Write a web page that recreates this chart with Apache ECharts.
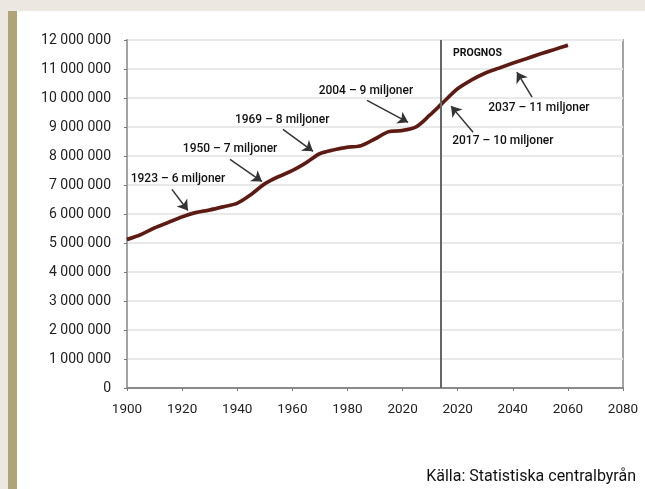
<!DOCTYPE html>
<html>
<head>
<meta charset="utf-8">
<script src="https://cdn.jsdelivr.net/npm/echarts@6/dist/echarts.min.js"></script>
<style>
  html, body { margin: 0; padding: 0; background: #ece7e0; width: 645px; height: 489px; overflow: hidden; }
  #bar { position: absolute; left: 8px; top: 11px; width: 9px; height: 478px; background: #b1a378; }
  #chart { position: absolute; left: 17px; top: 11px; width: 628px; height: 478px; background: #fff; }
</style>
</head>
<body>
<div id="bar"></div>
<div id="chart"></div>
<script>
// befolkning (miljoner) per år
const years = [1900, 1905, 1910, 1915, 1920, 1925, 1930, 1935, 1940, 1945, 1950, 1955, 1960, 1965, 1970, 1975, 1980, 1985, 1990, 1995, 2000, 2005, 2010, 2014,
  2020, 2025, 2030, 2035, 2040, 2045, 2050, 2055, 2060]
const population = [5.12, 5.29, 5.52, 5.71, 5.90, 6.05, 6.14, 6.25, 6.37, 6.67, 7.04, 7.29, 7.50, 7.77, 8.08, 8.21, 8.30, 8.36, 8.59, 8.84, 8.88, 9.01, 9.42, 9.78,
  10.32, 10.62, 10.86, 11.03, 11.20, 11.36, 11.52, 11.67, 11.82]

const xTickLabels = ['1900', '1920', '1940', '1960', '1980', '2020', '2020', '2040', '2060', '2080']
const prognosYear = 2014

// annoteringar: text, textposition [år, milj], pil från, pil till
const noteTexts = ['1923 – 6 miljoner', '1950 – 7 miljoner', '1969 – 8 miljoner', '2004 – 9 miljoner', '2017 – 10 miljoner', '2037 – 11 miljoner']
const notePos = [[1918.5, 7.19], [1937.4, 8.23], [1956.3, 9.23], [1986.7, 10.24], [2036.4, 8.51], [2049.5, 9.65]]
const arrowFrom = [[1916.3, 6.85], [1937.4, 7.88], [1956.6, 8.92], [1987.1, 9.92], [2025.6, 8.82], [2047.0, 10.03]]
const arrowTo = [[1922.1, 6.12], [1949.0, 7.12], [1967.5, 8.16], [2002.0, 9.16], [2017.6, 9.72], [2041.5, 10.89]]

const chart = echarts.init(document.getElementById('chart'))

const font = 'Roboto, "DejaVu Sans", sans-serif'

const option = {
  animation: false,
  textStyle: { fontFamily: font },
  title: {
    text: 'Källa: Statistiska centralbyrån',
    right: 9,
    top: 458,
    padding: 0,
    textStyle: { fontFamily: font, fontSize: 16, fontWeight: 'normal', color: '#111' }
  },
  grid: {
    left: 110,
    top: 29,
    right: 22,
    bottom: 101,
    show: true,
    borderColor: '#a3a3a3',
    borderWidth: 2
  },
  xAxis: {
    type: 'value',
    min: 1900,
    max: 2080,
    interval: 20,
    axisLine: { show: true, onZero: false, lineStyle: { color: '#8a8a8a', width: 2 } },
    axisTick: { show: true, length: 3, lineStyle: { color: '#777' } },
    splitLine: { show: false },
    axisLabel: {
      margin: 15,
      fontSize: 13.5,
      color: '#222',
      formatter: v => xTickLabels[Math.round((v - 1900) / 20)]
    }
  },
  yAxis: {
    type: 'value',
    min: 0,
    max: 12,
    interval: 1,
    axisLine: { show: true, lineStyle: { color: '#a3a3a3', width: 2 } },
    axisTick: { show: true, length: 3, lineStyle: { color: '#777' } },
    splitLine: { show: true, lineStyle: { color: '#e9e9e9', width: 2 } },
    axisLabel: {
      margin: 16,
      fontSize: 14,
      color: '#222',
      formatter: v => v === 0 ? '0' : (v * 1000000).toLocaleString('en-US').replace(/,/g, ' ')
    }
  },
  series: [
    {
      type: 'line',
      data: years.map((y, i) => [y, population[i]]),
      smooth: 0.3,
      symbol: 'none',
      lineStyle: { color: '#5c1a12', width: 3.5, shadowColor: 'rgba(40,0,0,0.35)', shadowBlur: 1 },
      z: 3,
      markLine: {
        silent: true,
        symbol: 'none',
        label: { show: false },
        lineStyle: { color: '#666', width: 2, type: 'solid' },
        data: [{ xAxis: prognosYear }]
      }
    },
    {
      type: 'line',
      data: [],
      markLine: {
        silent: true,
        symbol: ['none', 'arrow'],
        symbolSize: 10,
        label: { show: false },
        lineStyle: { color: '#333', width: 1.5, type: 'solid' },
        data: arrowFrom.map((p, i) => [{ coord: p }, { coord: arrowTo[i] }])
      },
      markPoint: {
        silent: true,
        symbol: 'circle',
        symbolSize: 0,
        label: {
          show: true,
          color: '#111',
          fontSize: 12,
          fontFamily: font,
          fontWeight: 500,
          formatter: p => p.name
        },
        data: noteTexts.map((t, i) => ({ name: t, coord: notePos[i] })).concat([
          {
            name: 'PROGNOS',
            coord: [2018.3, 11.55],
            label: { align: 'left', fontSize: 10.5, fontWeight: 'bold' }
          }
        ])
      }
    }
  ]
}

chart.setOption(option)
</script>
</body>
</html>
